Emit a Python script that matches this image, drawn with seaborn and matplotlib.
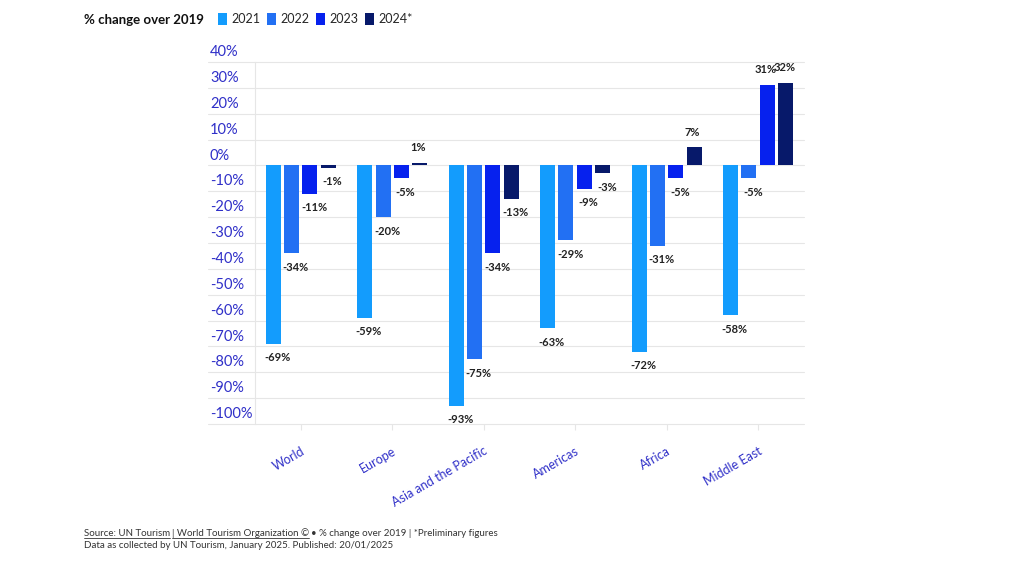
import matplotlib
matplotlib.use("Agg")
import matplotlib.pyplot as plt
import matplotlib.transforms as mtransforms
import seaborn as sns
import pandas as pd

regions = ["World", "Europe", "Asia and the Pacific", "Americas", "Africa", "Middle East"]
years = ["2021", "2022", "2023", "2024*"]
v2021 = [-69, -59, -93, -63, -72, -58]
v2022 = [-34, -20, -75, -29, -31, -5]
v2023 = [-11, -5, -34, -9, -5, 31]
v2024 = [-1, 1, -13, -3, 7, 32]
yticks = list(range(-100, 50, 10))
colors = ["#139cfd", "#2270f3", "#0621ee", "#07196a"]

rows = []
for yr, vals in zip(years, [v2021, v2022, v2023, v2024]):
    for r, v in zip(regions, vals):
        rows.append({"region": r, "year": yr, "value": v})
df = pd.DataFrame(rows)

sns.set_theme(style="white")
plt.rcParams["font.family"] = ["Lato", "DejaVu Sans"]

fig = plt.figure(figsize=(10.2, 5.62), dpi=100)
ax = fig.add_axes([0.25, 0.2456, 0.538, 0.6441])

sns.barplot(data=df, x="region", y="value", hue="year", palette=colors, saturation=1,
            width=0.8, gap=0.18, linewidth=0, ax=ax, legend=True)

ax.set_ylim(-100, 40)
ax.set_xlim(-0.5, 5.5)
ax.set_yticks(yticks)
ax.set_yticklabels([f"{t}%" for t in yticks])
ax.set_xlabel("")
ax.set_ylabel("")

for s in ["top", "right", "bottom"]:
    ax.spines[s].set_visible(False)
ax.spines["left"].set_color("#e6e6e6")
ax.spines["left"].set_linewidth(0.8)

# gridlines extending under tick labels
blend = mtransforms.blended_transform_factory(ax.transAxes, ax.transData)
for t in yticks:
    ax.plot([-0.0856, 1.0], [t, t], transform=blend, color="#e6e6e6",
            lw=0.8, clip_on=False, zorder=0)

ax.tick_params(axis="y", length=0, pad=32.4, labelsize=10.5, labelcolor="#2f2fc8")
for lab in ax.get_yticklabels():
    lab.set_ha("left")
    lab.set_va("bottom")
    lab.set_transform(lab.get_transform() + mtransforms.ScaledTranslation(0, 2 / 72, fig.dpi_scale_trans))

ax.tick_params(axis="x", length=4, width=0.8, color="#e6e6e6", bottom=True,
               pad=11, labelsize=9, labelcolor="#2f2fc8")
for lab in ax.get_xticklabels():
    lab.set_rotation(30)
    lab.set_ha("right")
    lab.set_rotation_mode("anchor")

# bar labels
for cont in ax.containers:
    for p in cont:
        h = p.get_height()
        xc = p.get_x() + p.get_width() / 2
        if h < 0:
            ax.annotate(f"{h:.0f}%", (xc, h), xytext=(3, -10), textcoords="offset points",
                        ha="center", va="center", fontsize=8, fontweight="bold", color="#222222")
        else:
            ax.annotate(f"{h:.0f}%", (xc, h), xytext=(-1, 11), textcoords="offset points",
                        ha="center", va="center", fontsize=8, fontweight="bold", color="#222222")

# legend
sns.move_legend(ax, "center left", bbox_to_anchor=(218 / 1020, 1 - 19 / 562),
                bbox_transform=fig.transFigure, ncol=4, title=None, frameon=False,
                fontsize=9, handlelength=0.75, handleheight=1.15, handletextpad=0.3,
                columnspacing=0.55, borderaxespad=0, borderpad=0)
fig.text(84 / 1020, 1 - 20 / 562, "% change over 2019", fontsize=9.5, fontweight="bold",
         color="#111111", va="center", ha="left")

# footer
fig.canvas.draw()
r = fig.canvas.get_renderer()
fy = 1 - 533 / 562
t1 = fig.text(84 / 1020, fy, "Source: UN Tourism", fontsize=7, color="#333333", va="center")
bb = t1.get_window_extent(r)
t2 = fig.text(bb.x1 / 1020 + 0.002, fy, "| World Tourism Organization ©", fontsize=7, color="#333333", va="center")
bb2 = t2.get_window_extent(r)
for b in [bb, bb2]:
    fig.add_artist(plt.Line2D([b.x0 / 1020, b.x1 / 1020], [(b.y0 - 0.5) / 562] * 2,
                              transform=fig.transFigure, color="#333333", lw=0.6))
fig.text(bb2.x1 / 1020 + 0.002, fy, "• % change over 2019 | *Preliminary figures",
         fontsize=7, color="#333333", va="center")
fig.text(84 / 1020, 1 - 546 / 562, "Data as collected by UN Tourism, January 2025. Published: 20/01/2025",
         fontsize=7, color="#333333", va="center")

fig.savefig("out.png", dpi=100)
